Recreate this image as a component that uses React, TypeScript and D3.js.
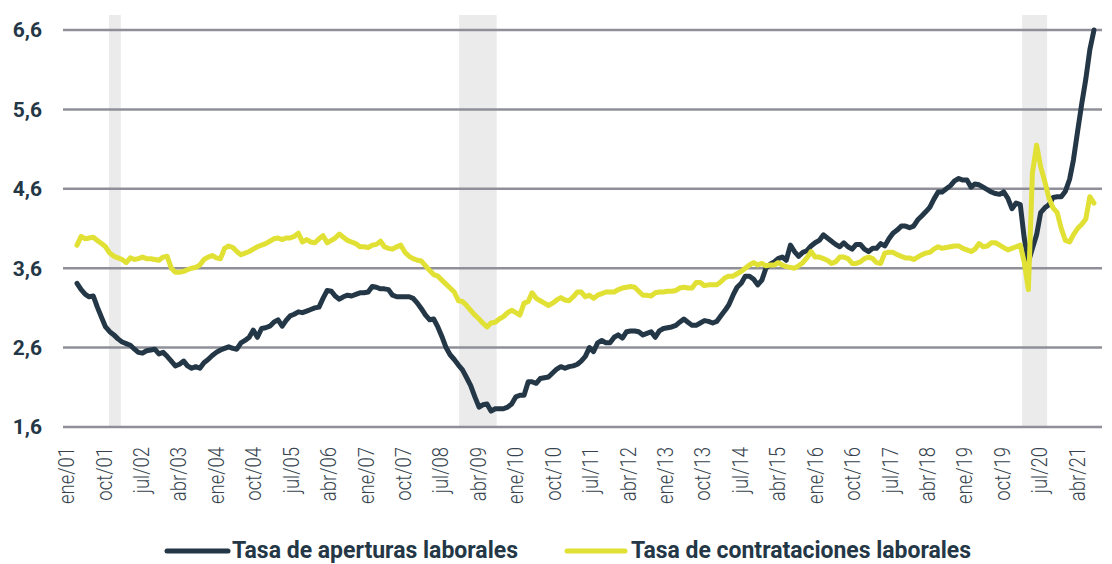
import * as d3 from 'd3';
import { useEffect, useRef } from 'react';

// monthly series, dic/00 .. ago/21
const START_MONTH = new Date(2000, 11, 1);

const aperturas = [
  3.41, 3.33, 3.27, 3.24, 3.25, 3.11, 2.98, 2.86, 2.80, 2.76, 2.71, 2.67,
  2.65, 2.63, 2.58, 2.54, 2.53, 2.56, 2.57, 2.58, 2.52, 2.54, 2.49, 2.43,
  2.37, 2.39, 2.43, 2.37, 2.34, 2.36, 2.34, 2.41, 2.45, 2.50, 2.54, 2.57,
  2.59, 2.61, 2.59, 2.58, 2.66, 2.69, 2.73, 2.82, 2.73, 2.84, 2.85, 2.87,
  2.92, 2.95, 2.87, 2.94, 3.00, 3.02, 3.05, 3.04, 3.06, 3.08, 3.10, 3.11,
  3.22, 3.32, 3.31, 3.25, 3.21, 3.24, 3.26, 3.25, 3.27, 3.29, 3.29, 3.30,
  3.37, 3.36, 3.34, 3.34, 3.33, 3.26, 3.24, 3.24, 3.24, 3.24, 3.22, 3.16,
  3.09, 3.01, 2.95, 2.96, 2.86, 2.74, 2.60, 2.51, 2.45, 2.38, 2.32, 2.22,
  2.12, 1.98, 1.85, 1.88, 1.89, 1.80, 1.83, 1.83, 1.83, 1.85, 1.89, 1.98,
  2.00, 2.00, 2.17, 2.17, 2.15, 2.21, 2.22, 2.23, 2.28, 2.33, 2.36, 2.34,
  2.36, 2.37, 2.39, 2.43, 2.49, 2.60, 2.55, 2.66, 2.69, 2.66, 2.66, 2.73,
  2.76, 2.72, 2.80, 2.81, 2.81, 2.80, 2.76, 2.78, 2.80, 2.73, 2.81, 2.84,
  2.85, 2.86, 2.88, 2.92, 2.96, 2.92, 2.88, 2.88, 2.91, 2.94, 2.93, 2.91,
  2.93, 3.00, 3.07, 3.14, 3.26, 3.36, 3.41, 3.50, 3.50, 3.46, 3.39, 3.45,
  3.60, 3.65, 3.68, 3.72, 3.74, 3.70, 3.89, 3.81, 3.75, 3.80, 3.82, 3.88,
  3.92, 3.95, 4.02, 3.98, 3.94, 3.90, 3.87, 3.92, 3.87, 3.84, 3.90, 3.90,
  3.84, 3.81, 3.85, 3.85, 3.91, 3.88, 3.97, 4.04, 4.08, 4.13, 4.13, 4.11,
  4.13, 4.21, 4.26, 4.31, 4.37, 4.47, 4.56, 4.56, 4.60, 4.64, 4.70, 4.73,
  4.71, 4.71, 4.62, 4.66, 4.65, 4.62, 4.59, 4.56, 4.54, 4.53, 4.56, 4.48,
  4.35, 4.42, 4.40, 3.98, 3.68, 3.85, 4.02, 4.30, 4.36, 4.40, 4.49, 4.50,
  4.50, 4.57, 4.72, 4.96, 5.32, 5.66, 5.98, 6.35, 6.60,
];

const contrataciones = [
  3.89, 4.00, 3.97, 3.98, 3.99, 3.95, 3.91, 3.87, 3.79, 3.75, 3.73, 3.71,
  3.67, 3.73, 3.71, 3.72, 3.74, 3.72, 3.72, 3.71, 3.70, 3.74, 3.75, 3.60,
  3.55, 3.55, 3.56, 3.58, 3.60, 3.61, 3.64, 3.71, 3.74, 3.76, 3.73, 3.72,
  3.85, 3.88, 3.86, 3.81, 3.77, 3.79, 3.81, 3.84, 3.87, 3.89, 3.91, 3.94,
  3.97, 3.98, 3.96, 3.98, 3.98, 4.00, 4.04, 3.93, 3.96, 3.93, 3.92, 3.97,
  4.01, 3.92, 3.95, 3.98, 4.03, 3.99, 3.95, 3.93, 3.91, 3.87, 3.87, 3.86,
  3.89, 3.90, 3.94, 3.87, 3.85, 3.84, 3.87, 3.89, 3.80, 3.75, 3.72, 3.70,
  3.69, 3.63, 3.57, 3.52, 3.50, 3.45, 3.40, 3.35, 3.30, 3.19, 3.18, 3.13,
  3.07, 3.01, 2.96, 2.91, 2.86, 2.91, 2.92, 2.96, 2.99, 3.04, 3.07, 3.04,
  3.01, 3.16, 3.18, 3.29, 3.22, 3.19, 3.16, 3.13, 3.16, 3.20, 3.23, 3.20,
  3.19, 3.24, 3.30, 3.30, 3.24, 3.26, 3.22, 3.26, 3.28, 3.30, 3.30, 3.30,
  3.33, 3.35, 3.36, 3.37, 3.36, 3.31, 3.26, 3.26, 3.25, 3.29, 3.30, 3.30,
  3.31, 3.31, 3.32, 3.35, 3.36, 3.35, 3.35, 3.42, 3.42, 3.38, 3.39, 3.39,
  3.39, 3.43, 3.48, 3.50, 3.50, 3.53, 3.56, 3.60, 3.64, 3.67, 3.64, 3.66,
  3.63, 3.64, 3.64, 3.67, 3.64, 3.62, 3.61, 3.60, 3.63, 3.67, 3.73, 3.81,
  3.74, 3.74, 3.72, 3.70, 3.66, 3.68, 3.74, 3.74, 3.72, 3.66, 3.66, 3.68,
  3.72, 3.74, 3.72, 3.67, 3.66, 3.79, 3.80, 3.80, 3.77, 3.75, 3.73, 3.73,
  3.71, 3.74, 3.77, 3.79, 3.80, 3.84, 3.87, 3.85, 3.86, 3.87, 3.88, 3.88,
  3.85, 3.83, 3.81, 3.84, 3.91, 3.87, 3.88, 3.92, 3.92, 3.89, 3.86, 3.83,
  3.85, 3.87, 3.89, 3.68, 3.33, 4.80, 5.15, 4.88, 4.69, 4.48, 4.36, 4.30,
  4.10, 3.95, 3.93, 4.02, 4.10, 4.15, 4.22, 4.50, 4.42,
];

// shaded periods
const bandStarts = ['2001-07-26', '2008-09-06', '2020-02-15'];
const bandEnds = ['2001-10-22', '2009-06-12', '2020-08-18'];

const yTicks = [1.6, 2.6, 3.6, 4.6, 5.6, 6.6];

const xLabels = [
  'ene/01', 'oct/01', 'jul/02', 'abr/03', 'ene/04', 'oct/04', 'jul/05',
  'abr/06', 'ene/07', 'oct/07', 'jul/08', 'abr/09', 'ene/10', 'oct/10',
  'jul/11', 'abr/12', 'ene/13', 'oct/13', 'jul/14', 'abr/15', 'ene/16',
  'oct/16', 'jul/17', 'abr/18', 'ene/19', 'oct/19', 'jul/20', 'abr/21',
];

const seriesNames = ['Tasa de aperturas laborales', 'Tasa de contrataciones laborales'];
const DARK = '#243746';
const YELLOW = '#e1e035';

const W = 1112;
const H = 564;

export default function App() {
  const svgRef = useRef<SVGSVGElement>(null);

  useEffect(() => {
    if (!svgRef.current) return;
    const svg = d3.select(svgRef.current);
    svg.selectAll('*').remove();

    const dates = aperturas.map((_, i) => d3.timeMonth.offset(START_MONTH, i));

    const x = d3
      .scaleTime()
      .domain([dates[0], dates[dates.length - 1]])
      .range([77, 1094]);
    const y = d3.scaleLinear().domain([1.6, 6.6]).range([427, 30]);
    const xl = d3.scalePoint<string>().domain(xLabels).range([66.5, 1077]);

    const parse = d3.timeParse('%Y-%m-%d');

    // grey bands
    svg
      .append('g')
      .selectAll('rect')
      .data(bandStarts)
      .enter()
      .append('rect')
      .attr('x', (d) => x(parse(d)!))
      .attr('width', (d, i) => x(parse(bandEnds[i])!) - x(parse(d)!))
      .attr('y', 15)
      .attr('height', y(1.6) - 15)
      .attr('fill', '#ebebeb');

    // gridlines
    svg
      .append('g')
      .selectAll('line')
      .data(yTicks)
      .enter()
      .append('line')
      .attr('x1', 63)
      .attr('x2', 1102)
      .attr('y1', (d) => y(d))
      .attr('y2', (d) => y(d))
      .attr('stroke', '#8f8f99')
      .attr('stroke-width', 2.5);

    // y labels
    svg
      .append('g')
      .selectAll('text')
      .data(yTicks)
      .enter()
      .append('text')
      .attr('x', 42)
      .attr('y', (d) => y(d))
      .attr('dy', '0.35em')
      .attr('text-anchor', 'end')
      .attr('font-family', 'Roboto, sans-serif')
      .attr('font-weight', 700)
      .attr('font-size', 21)
      .attr('fill', DARK)
      .text((d) => d3.format('.1f')(d).replace('.', ','));

    // x labels, rotated
    svg
      .append('g')
      .selectAll('text')
      .data(xLabels)
      .enter()
      .append('text')
      .attr('transform', (d) => `translate(${xl(d)},447) rotate(-90) scale(0.84,1)`)
      .attr('dy', '0.35em')
      .attr('text-anchor', 'end')
      .attr('font-family', 'Roboto, sans-serif')
      .attr('font-weight', 300)
      .attr('font-size', 22)
      .attr('fill', '#36434e')
      .text((d) => d);

    const line = d3
      .line<number>()
      .x((_, i) => x(dates[i]))
      .y((d) => y(d));

    [aperturas, contrataciones].forEach((s, k) => {
      svg
        .append('path')
        .datum(s)
        .attr('d', line)
        .attr('fill', 'none')
        .attr('stroke', k === 0 ? DARK : YELLOW)
        .attr('stroke-width', 5)
        .attr('stroke-linejoin', 'round')
        .attr('stroke-linecap', 'round');
    });

    // legend
    const legendPos = [
      { x1: 167, x2: 228, tx: 232, tw: 286 },
      { x1: 567, x2: 625, tx: 631, tw: 340 },
    ];
    const lg = svg.append('g');
    seriesNames.forEach((name, k) => {
      const p = legendPos[k];
      lg.append('line')
        .attr('x1', p.x1)
        .attr('x2', p.x2)
        .attr('y1', 551)
        .attr('y2', 551)
        .attr('stroke', k === 0 ? DARK : YELLOW)
        .attr('stroke-width', 5)
        .attr('stroke-linecap', 'round');
      lg.append('text')
        .attr('x', p.tx)
        .attr('y', 558)
        .attr('textLength', p.tw)
        .attr('lengthAdjust', 'spacingAndGlyphs')
        .attr('font-family', 'Roboto, sans-serif')
        .attr('font-weight', 700)
        .attr('font-size', 24)
        .attr('fill', DARK)
        .text(name);
    });
  }, []);

  return (
    <div style={{ position: 'absolute', left: 0, top: 0, width: W, height: H, background: '#fff' }}>
      <svg ref={svgRef} width={W} height={H} />
    </div>
  );
}
